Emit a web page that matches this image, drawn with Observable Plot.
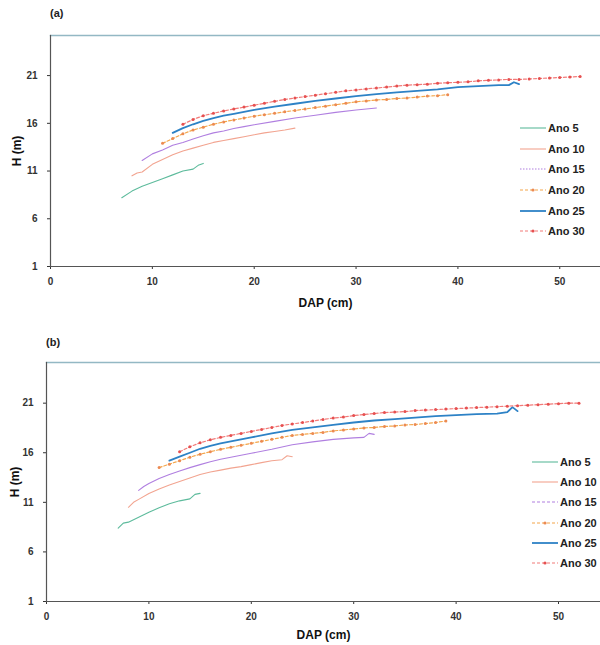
<!DOCTYPE html>
<html>
<head>
<meta charset="utf-8">
<script src="https://cdn.jsdelivr.net/npm/d3@7"></script>
<script src="https://cdn.jsdelivr.net/npm/@observablehq/plot@0.6"></script>
<style>
  html, body { margin: 0; padding: 0; background: #fff; overflow: hidden; }
  #wrap { position: relative; width: 600px; height: 645px; overflow: hidden; font-family: "Liberation Sans", Arial, sans-serif; }
  .plabel { position: absolute; font-weight: bold; font-size: 11px; color: #222; }
  .panel { position: absolute; left: 0; }
  .legend { position: absolute; font-weight: bold; font-size: 11px; color: #222; white-space: nowrap; }
  .legend .row { display: flex; align-items: center; }
  .legend svg { display: block; margin-right: 2px; }
</style>
</head>
<body>
<div id="wrap">
  <div class="plabel" style="left:50px;top:7px">(a)</div>
  <div class="panel" id="pa" style="top:0px"></div>
  <div class="legend" id="la" style="left:520px;top:118px"></div>
  <div class="plabel" style="left:46px;top:336px">(b)</div>
  <div class="panel" id="pb" style="top:325px"></div>
  <div class="legend" id="lb" style="left:532px;top:452px"></div>
</div>
<script>
// ---------- data ----------
const seriesNames = ["Ano 5", "Ano 10", "Ano 15", "Ano 20", "Ano 25", "Ano 30"];
const xTicks = [0, 10, 20, 30, 40, 50];
const yTicks = [1, 6, 11, 16, 21];

// Panel (a)
const a5_dap = [7, 8, 9, 10, 11, 12, 13, 14, 14.5, 15];
const a5_h   = [8.2, 8.9, 9.4, 9.8, 10.2, 10.6, 11.0, 11.2, 11.6, 11.8];
const a10_dap = [8, 8.5, 9, 10, 11, 12, 13, 14, 15, 16, 17, 18, 19, 20, 21, 22, 23, 24];
const a10_h   = [10.5, 10.8, 10.9, 11.7, 12.2, 12.7, 13.1, 13.4, 13.7, 14.0, 14.2, 14.4, 14.6, 14.8, 15.0, 15.15, 15.3, 15.5];
const a15_dap = [9, 10, 11, 12, 13, 14, 15, 16, 17, 18, 19, 20, 22, 24, 26, 28, 30, 32];
const a15_h   = [12.1, 12.8, 13.2, 13.7, 14.0, 14.35, 14.7, 15.0, 15.2, 15.45, 15.65, 15.85, 16.2, 16.55, 16.85, 17.15, 17.4, 17.6];
const a20_dap = [11, 12, 13, 14, 15, 16, 17, 18, 19, 20, 21, 22, 23, 24, 25, 26, 27, 28, 29, 30, 31, 32, 33, 34, 35, 36, 37, 38, 39];
const a20_h   = [13.9, 14.4, 14.9, 15.3, 15.6, 15.9, 16.15, 16.35, 16.55, 16.75, 16.9, 17.05, 17.2, 17.35, 17.5, 17.65, 17.8, 17.95, 18.1, 18.25, 18.35, 18.45, 18.5, 18.6, 18.65, 18.75, 18.85, 18.9, 19.0];
const a25_dap = [12, 13, 14, 15, 16, 17, 18, 19, 20, 22, 24, 26, 28, 30, 32, 34, 36, 38, 40, 42, 44, 45, 45.5, 46];
const a25_h   = [15.0, 15.5, 15.9, 16.25, 16.55, 16.8, 17.0, 17.2, 17.4, 17.75, 18.05, 18.35, 18.6, 18.85, 19.05, 19.25, 19.4, 19.55, 19.8, 19.9, 20.0, 20.0, 20.3, 20.1];
const a30_dap = [13, 14, 15, 16, 17, 18, 19, 20, 21, 22, 23, 24, 25, 26, 27, 28, 29, 30, 31, 32, 33, 34, 35, 36, 37, 38, 39, 40, 41, 42, 43, 44, 45, 46, 47, 48, 49, 50, 51, 52];
const a30_h   = [15.9, 16.4, 16.8, 17.05, 17.3, 17.5, 17.7, 17.9, 18.1, 18.3, 18.5, 18.65, 18.8, 18.95, 19.1, 19.25, 19.4, 19.5, 19.6, 19.7, 19.8, 19.9, 20.0, 20.05, 20.1, 20.2, 20.25, 20.3, 20.35, 20.45, 20.5, 20.55, 20.6, 20.6, 20.65, 20.7, 20.75, 20.8, 20.85, 20.9];

// Panel (b)
const b5_dap = [7, 7.5, 8, 9, 10, 11, 12, 13, 14, 14.5, 15];
const b5_h   = [8.4, 8.9, 9.0, 9.5, 10.0, 10.45, 10.85, 11.15, 11.35, 11.8, 11.9];
const b10_dap = [8, 8.5, 9, 10, 11, 12, 13, 14, 15, 16, 17, 18, 19, 20, 21, 22, 23, 23.5, 24];
const b10_h   = [10.5, 11.0, 11.3, 11.9, 12.35, 12.75, 13.1, 13.45, 13.8, 14.05, 14.25, 14.45, 14.6, 14.8, 15.0, 15.2, 15.3, 15.7, 15.6];
const b15_dap = [9, 9.5, 10, 11, 12, 13, 14, 15, 16, 17, 18, 19, 20, 22, 24, 26, 28, 30, 31, 31.5, 32];
const b15_h   = [12.2, 12.6, 12.9, 13.4, 13.8, 14.15, 14.5, 14.8, 15.1, 15.35, 15.55, 15.75, 15.95, 16.35, 16.8, 17.1, 17.35, 17.5, 17.55, 17.95, 17.85];
const b20_dap = [11, 12, 13, 14, 15, 16, 17, 18, 19, 20, 21, 22, 23, 24, 25, 26, 27, 28, 29, 30, 31, 32, 33, 34, 35, 36, 37, 38, 39];
const b20_h   = [14.5, 14.85, 15.2, 15.55, 15.85, 16.1, 16.35, 16.55, 16.75, 16.95, 17.15, 17.35, 17.55, 17.75, 17.85, 17.95, 18.05, 18.2, 18.3, 18.4, 18.5, 18.55, 18.65, 18.7, 18.8, 18.85, 18.95, 19.05, 19.2];
const b25_dap = [12, 13, 14, 15, 16, 17, 18, 19, 20, 22, 24, 26, 28, 30, 32, 34, 36, 38, 40, 42, 44, 45, 45.5, 46];
const b25_h   = [15.2, 15.6, 16.0, 16.4, 16.7, 16.95, 17.15, 17.35, 17.55, 17.95, 18.3, 18.55, 18.8, 19.05, 19.25, 19.4, 19.55, 19.7, 19.8, 19.9, 19.95, 20.1, 20.6, 20.2];
const b30_dap = [13, 14, 15, 16, 17, 18, 19, 20, 21, 22, 23, 24, 25, 26, 27, 28, 29, 30, 31, 32, 33, 34, 35, 36, 37, 38, 39, 40, 41, 42, 43, 44, 45, 46, 47, 48, 49, 50, 51, 52];
const b30_h   = [16.1, 16.6, 17.0, 17.3, 17.55, 17.75, 17.95, 18.15, 18.35, 18.55, 18.75, 18.9, 19.05, 19.2, 19.35, 19.5, 19.6, 19.75, 19.85, 19.95, 20.05, 20.1, 20.15, 20.25, 20.3, 20.35, 20.4, 20.45, 20.5, 20.55, 20.6, 20.65, 20.7, 20.75, 20.8, 20.85, 20.9, 20.95, 21.0, 21.0];

// ---------- styles ----------
const lineColors  = ["#5dbb9c", "#f2a490", "#b07fe0", "#f4a64a", "#2d82c6", "#f27a78"];
const lineWidths  = [1.1, 1.1, 1.1, 1.2, 1.8, 1.2];
const lineDashes  = [null, null, null, "3,2", null, "3,2"];
const markerColor = {"Ano 20": "#ec8a52", "Ano 30": "#e65050"};

function rowsFrom(pairs) {
  const rows = [];
  pairs.forEach(([dap, h], i) => {
    dap.forEach((x, j) => rows.push({serie: seriesNames[i], dap: x, h: h[j]}));
  });
  return rows;
}
const rowsA = rowsFrom([[a5_dap, a5_h], [a10_dap, a10_h], [a15_dap, a15_h], [a20_dap, a20_h], [a25_dap, a25_h], [a30_dap, a30_h]]);
const rowsB = rowsFrom([[b5_dap, b5_h], [b10_dap, b10_h], [b15_dap, b15_h], [b20_dap, b20_h], [b25_dap, b25_h], [b30_dap, b30_h]]);

function chart(rows, o) {
  const svg = Plot.plot({
    width: 600, height: o.height,
    marginTop: o.mt, marginBottom: o.mb, marginLeft: o.ml, marginRight: 0,
    style: {fontFamily: "'Liberation Sans', Arial, sans-serif", fontSize: "10px", fontWeight: "bold", color: "#333", background: "transparent", overflow: "visible"},
    x: {domain: [0, o.xmax], ticks: xTicks, tickSize: 3, tickPadding: 8, label: "DAP (cm)", labelAnchor: "center", labelOffset: o.xlo, labelArrow: "none"},
    y: {domain: [1, o.ymax], ticks: yTicks, tickSize: 3, tickPadding: 10, label: "H (m)", labelAnchor: "center", labelOffset: o.ylo, labelArrow: "none"},
    marks: [
      Plot.frame({anchor: "top", stroke: "#93b8c4", strokeWidth: 1.4}),
      Plot.frame({anchor: "left", stroke: "#555", strokeWidth: 1.2}),
      Plot.frame({anchor: "bottom", stroke: "#555", strokeWidth: 1.2}),
      ...seriesNames.map((s, i) => Plot.line(rows.filter(d => d.serie === s), {
        x: "dap", y: "h", stroke: lineColors[i], strokeWidth: lineWidths[i],
        strokeDasharray: lineDashes[i] || undefined
      })),
      Plot.dot(rows.filter(d => markerColor[d.serie]), {
        x: "dap", y: "h", r: 1.5, fill: d => markerColor[d.serie], stroke: "none"
      })
    ]
  });
  svg.querySelectorAll('[aria-label$="axis label"] text, [aria-label$="axis label"]').forEach(t => {
    t.style.fontSize = "12px";
    t.style.fill = "#111";
  });
  return svg;
}

document.getElementById("pa").appendChild(chart(rowsA, {height: 322, mt: 35, mb: 56, ml: 50, xmax: 54, ymax: 25.2, xlo: 40, ylo: 38}));
document.getElementById("pb").appendChild(chart(rowsB, {height: 320, mt: 37, mb: 44, ml: 46, xmax: 54.1, ymax: 25.1, xlo: 37, ylo: 36}));

function legend(el, rowH, dashed15) {
  seriesNames.forEach((s, i) => {
    const row = document.createElement("div");
    row.className = "row";
    row.style.height = rowH + "px";
    const ns = "http://www.w3.org/2000/svg";
    const sv = document.createElementNS(ns, "svg");
    sv.setAttribute("width", 26); sv.setAttribute("height", 8);
    const ln = document.createElementNS(ns, "line");
    ln.setAttribute("x1", 0); ln.setAttribute("x2", 26); ln.setAttribute("y1", 4); ln.setAttribute("y2", 4);
    ln.setAttribute("stroke", lineColors[i]);
    ln.setAttribute("stroke-width", lineWidths[i]);
    if (i === 2) ln.setAttribute("stroke-dasharray", dashed15);
    else if (lineDashes[i]) ln.setAttribute("stroke-dasharray", lineDashes[i]);
    sv.appendChild(ln);
    if (markerColor[s]) {
      const c = document.createElementNS(ns, "circle");
      c.setAttribute("cx", 13); c.setAttribute("cy", 4); c.setAttribute("r", 1.6);
      c.setAttribute("fill", markerColor[s]);
      sv.appendChild(c);
    }
    row.appendChild(sv);
    const t = document.createElement("span");
    t.textContent = s;
    row.appendChild(t);
    el.appendChild(row);
  });
}
legend(document.getElementById("la"), 20.6, "1.5,1.5");
legend(document.getElementById("lb"), 20.2, "3,2");
</script>
</body>
</html>
